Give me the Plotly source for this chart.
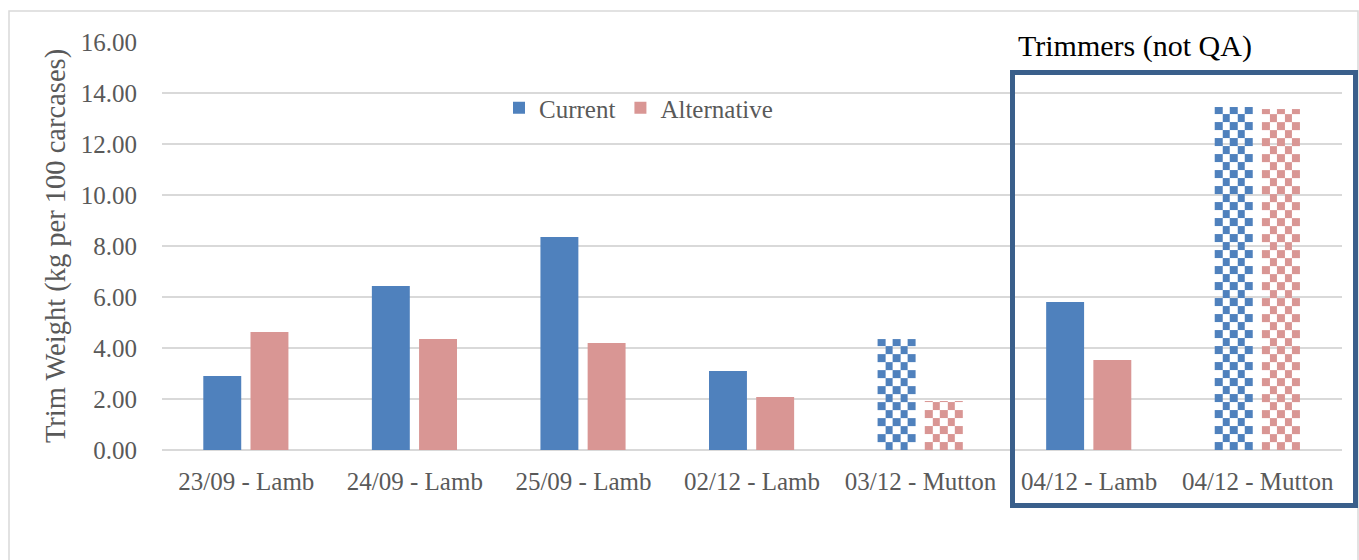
import plotly.graph_objects as go

# ---- data -------------------------------------------------------------
categories = ["23/09 - Lamb", "24/09 - Lamb", "25/09 - Lamb", "02/12 - Lamb",
              "03/12 - Mutton", "04/12 - Lamb", "04/12 - Mutton"]
current = [2.90, 6.43, 8.35, 3.10, 4.35, 5.80, 13.45]
alternative = [4.63, 4.35, 4.20, 2.08, 1.92, 3.53, 13.37]
checkered = [False, False, False, False, True, False, True]  # mutton batches
y_ticks = [0, 2, 4, 6, 8, 10, 12, 14, 16]

# ---- styling ----------------------------------------------------------
BLUE = "#4f81bd"
PINK = "#d99694"
GRID = "#d9d9d9"
TEXT = "#595959"
FONT = "Liberation Serif"

BAR_W = 0.225
OFFSETS = {"Current": -0.255, "Alternative": 0.025}
CELL_H = 0.314          # checker cell height in data units
CELL_COLS = 5           # checker columns per bar

x_pos = list(range(len(categories)))

fig = go.Figure()

series = [("Current", current, BLUE), ("Alternative", alternative, PINK)]

# checkerboard fill for the mutton bars (heatmap bricks on the same axes)
for name, values, color in series:
    off = OFFSETS[name]
    for i, (v, chk) in enumerate(zip(values, checkered)):
        if not chk:
            continue
        left = i + off
        xe = [left + BAR_W * c / CELL_COLS for c in range(CELL_COLS + 1)]
        ye = []
        k = 0
        while k * CELL_H < v:
            ye.append(k * CELL_H)
            k += 1
        ye.append(v)
        nrows = len(ye) - 1
        z = [[(r + c + nrows) % 2 for c in range(CELL_COLS)] for r in range(nrows)]
        fig.add_trace(go.Heatmap(
            x=xe, y=ye, z=z, zmin=0, zmax=1, showscale=False,
            colorscale=[[0, "rgba(255,255,255,0)"], [1, color]],
            hoverinfo="skip", zsmooth=False,
        ))

# bars (solid fill; mutton bars are left clear so the checker shows)
for name, values, color in series:
    colors = ["rgba(0,0,0,0)" if chk else color for chk in checkered]
    fig.add_trace(go.Bar(
        name=name, x=x_pos, y=values, width=BAR_W, offset=OFFSETS[name],
        marker=dict(color=colors, line=dict(width=0)),
    ))

L, R, T, B = 162, 17, 42, 110
W, H = 1359, 560
pw, ph = W - L - R, H - T - B


def px_x(x):
    return (x - L) / pw


def px_y(y):
    return (H - B - y) / ph


fig.update_layout(
    width=W, height=H,
    margin=dict(l=L, r=R, t=T, b=B, autoexpand=False),
    paper_bgcolor="white", plot_bgcolor="white",
    font=dict(family=FONT, size=25, color=TEXT),
    barmode="overlay",
    showlegend=True,
    legend=dict(
        orientation="h", x=px_x(499), xanchor="left",
        y=px_y(108), yanchor="middle",
        font=dict(family=FONT, size=25, color=TEXT),
        bgcolor="rgba(0,0,0,0)", itemwidth=30,
        traceorder="normal",
    ),
    xaxis=dict(
        range=[-0.5, len(categories) - 0.5],
        tickmode="array", tickvals=x_pos, ticktext=categories,
        showgrid=False, zeroline=False, showline=False,
        ticks="", ticklabelstandoff=14,
        tickfont=dict(family=FONT, size=25, color=TEXT),
        fixedrange=True,
    ),
    yaxis=dict(
        range=[0, 16], tickmode="array", tickvals=y_ticks,
        tickformat=".2f",
        showgrid=True, gridcolor=GRID, gridwidth=1.5,
        zeroline=True, zerolinecolor=GRID, zerolinewidth=1.5,
        showline=False, ticks="", ticklabelstandoff=24,
        tickfont=dict(family=FONT, size=25, color=TEXT),
        title=dict(text="Trim Weight (kg per 100 carcases)",
                   font=dict(family=FONT, size=28.5, color=TEXT),
                   standoff=6),
        fixedrange=True,
    ),
    shapes=[
        # chart-area frame
        dict(type="rect", xref="paper", yref="paper",
             x0=px_x(9), x1=px_x(1358), y0=px_y(575), y1=px_y(11),
             line=dict(color=GRID, width=1.5), fillcolor="rgba(0,0,0,0)",
             layer="below"),
        # box around the trimmer batches
        dict(type="rect", xref="paper", yref="paper",
             x0=px_x(1012.5), x1=px_x(1355.5), y0=px_y(505.5), y1=px_y(72.5),
             line=dict(color="#3a5f8b", width=5), fillcolor="rgba(0,0,0,0)"),
    ],
    annotations=[
        dict(text="Trimmers (not QA)", xref="paper", yref="paper",
             x=px_x(1016), y=px_y(46), xanchor="left", yanchor="middle",
             showarrow=False, font=dict(family=FONT, size=30, color="#000000")),
    ],
)

fig.write_html("out.html")
